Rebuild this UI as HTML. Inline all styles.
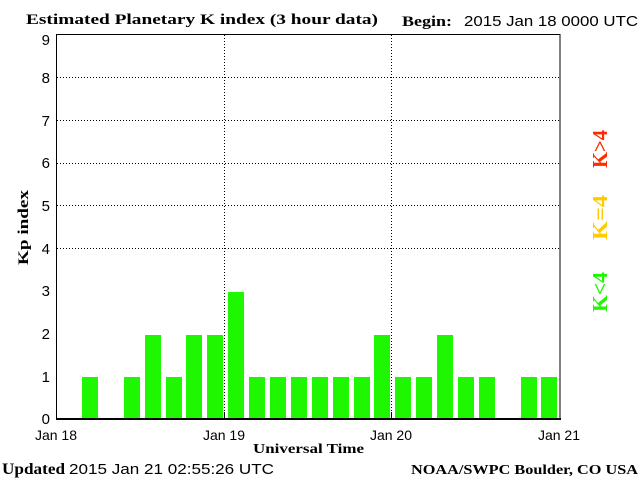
<!DOCTYPE html>
<html><head><style>body{margin:0;background:#fff}svg{display:block}</style></head><body>
<svg width="640" height="480" xmlns="http://www.w3.org/2000/svg">
<rect width="640" height="480" fill="#fff"/>
<g stroke="#000" stroke-width="1" stroke-dasharray="1,2">
<line x1="57" y1="77.5" x2="560" y2="77.5"/>
<line x1="57" y1="120.5" x2="560" y2="120.5"/>
<line x1="57" y1="163.5" x2="560" y2="163.5"/>
<line x1="57" y1="205.5" x2="560" y2="205.5"/>
<line x1="57" y1="248.5" x2="560" y2="248.5"/>
<line x1="224.5" y1="35" x2="224.5" y2="419"/>
<line x1="391.5" y1="35" x2="391.5" y2="419"/>
</g>
<g fill="#1ff700">
<rect x="82" y="377" width="16" height="42"/>
<rect x="124" y="377" width="16" height="42"/>
<rect x="145" y="335" width="16" height="84"/>
<rect x="166" y="377" width="16" height="42"/>
<rect x="186" y="335" width="16" height="84"/>
<rect x="207" y="335" width="16" height="84"/>
<rect x="228" y="292" width="16" height="127"/>
<rect x="249" y="377" width="16" height="42"/>
<rect x="270" y="377" width="16" height="42"/>
<rect x="291" y="377" width="16" height="42"/>
<rect x="312" y="377" width="16" height="42"/>
<rect x="333" y="377" width="16" height="42"/>
<rect x="354" y="377" width="16" height="42"/>
<rect x="374" y="335" width="16" height="84"/>
<rect x="395" y="377" width="16" height="42"/>
<rect x="416" y="377" width="16" height="42"/>
<rect x="437" y="335" width="16" height="84"/>
<rect x="458" y="377" width="16" height="42"/>
<rect x="479" y="377" width="16" height="42"/>
<rect x="521" y="377" width="16" height="42"/>
<rect x="541" y="377" width="16" height="42"/>
</g>
<rect x="56.5" y="34.5" width="503.5" height="384.5" fill="none" stroke="#000" stroke-width="1"/>
<line x1="56" y1="419" x2="561" y2="419" stroke="#000" stroke-width="2"/>
<line x1="224.5" y1="412" x2="224.5" y2="419" stroke="#000"/>
<line x1="391.5" y1="412" x2="391.5" y2="419" stroke="#000"/>
<g font-family="Liberation Sans, sans-serif" font-size="15" fill="#000" text-anchor="end">
<text x="50" y="424">0</text><text x="50" y="382">1</text><text x="50" y="339">2</text>
<text x="50" y="296">3</text><text x="50" y="254">4</text><text x="50" y="211">5</text>
<text x="50" y="168">6</text><text x="50" y="126">7</text><text x="50" y="83">8</text><text x="50" y="45">9</text>
</g>
<g font-family="Liberation Sans, sans-serif" font-size="14" fill="#000" text-anchor="middle">
<text x="56" y="440">Jan 18</text><text x="224" y="440">Jan 19</text>
<text x="391" y="440">Jan 20</text><text x="559" y="440">Jan 21</text>
</g>
<g font-family="Liberation Serif, serif" font-weight="bold" fill="#000">
<text x="26" y="24" font-size="15" textLength="352" lengthAdjust="spacingAndGlyphs">Estimated Planetary K index (3 hour data)</text>
<text x="402" y="26" font-size="15" textLength="50" lengthAdjust="spacingAndGlyphs">Begin:</text>
<text x="253" y="453" font-size="14" textLength="111" lengthAdjust="spacingAndGlyphs">Universal Time</text>
<text x="2" y="474" font-size="16" textLength="63" lengthAdjust="spacingAndGlyphs">Updated</text>
<text x="411" y="474" font-size="14" textLength="227" lengthAdjust="spacingAndGlyphs">NOAA/SWPC Boulder, CO USA</text>
<text transform="translate(28,265) rotate(-90)" font-size="15" textLength="75" lengthAdjust="spacingAndGlyphs">Kp index</text>
</g>
<g font-family="Liberation Sans, sans-serif" font-size="15" fill="#000">
<text x="464" y="26" textLength="174" lengthAdjust="spacingAndGlyphs">2015 Jan 18 0000 UTC</text>
<text x="69" y="474" textLength="205" lengthAdjust="spacingAndGlyphs">2015 Jan 21 02:55:26 UTC</text>
</g>
<g font-family="Liberation Serif, serif" font-weight="bold" font-size="21">
<text transform="translate(607,168) rotate(-90)" fill="#ff2a00" textLength="38" lengthAdjust="spacingAndGlyphs">K&gt;4</text>
<text transform="translate(607,240) rotate(-90)" fill="#ffcc00" textLength="45" lengthAdjust="spacingAndGlyphs">K=4</text>
<text transform="translate(607,312) rotate(-90)" fill="#1ff700" textLength="40" lengthAdjust="spacingAndGlyphs">K&lt;4</text>
</g>
</svg>
</body></html>
